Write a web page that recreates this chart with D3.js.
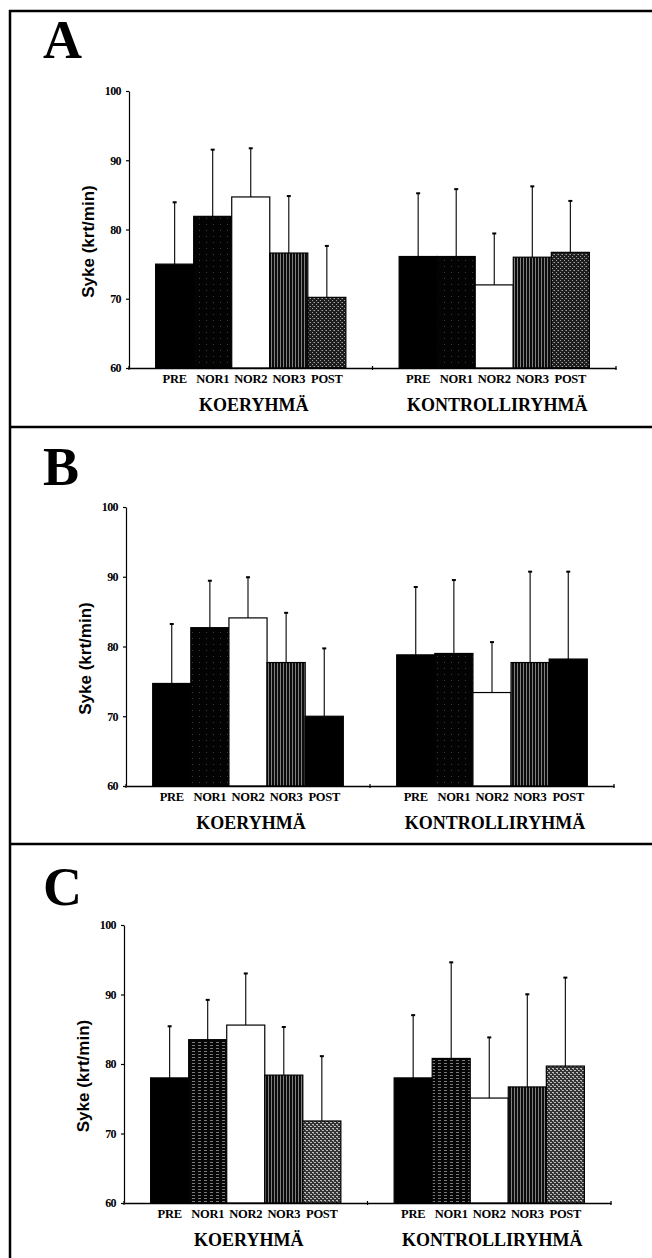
<!DOCTYPE html>
<html>
<head>
<meta charset="utf-8">
<script src="https://cdn.jsdelivr.net/npm/d3@7"></script>
<style>
  html, body { margin: 0; padding: 0; background: #fff; }
  svg { display: block; }
</style>
</head>
<body>
<script>
// Heart rate (Syke, beats/min) by measurement phase, experimental vs control group
const categories = ["PRE", "NOR1", "NOR2", "NOR3", "POST"];
const groups = ["KOERYHMÄ", "KONTROLLIRYHMÄ"];
const yTicks = [60, 70, 80, 90, 100];
const yTitle = "Syke (krt/min)";

// Panel A
const meanA_koe = [75.0, 81.9, 84.7, 76.6, 70.2];
const sdA_koe = [9.0, 9.7, 7.1, 8.3, 7.5];
const meanA_kontrolli = [76.1, 76.1, 72.0, 76.0, 76.7];
const sdA_kontrolli = [9.2, 9.8, 7.5, 10.3, 7.5];

// Panel B
const meanB_koe = [74.7, 82.7, 84.1, 77.7, 70.0];
const sdB_koe = [8.6, 6.8, 5.9, 7.2, 9.8];
const meanB_kontrolli = [78.8, 79.0, 73.4, 77.7, 78.2];
const sdB_kontrolli = [9.8, 10.6, 7.3, 13.1, 12.6];

// Panel C
const meanC_koe = [78.0, 83.5, 85.6, 78.4, 71.8];
const sdC_koe = [7.5, 5.8, 7.5, 7.0, 9.4];
const meanC_kontrolli = [78.0, 80.8, 75.1, 76.7, 79.7];
const sdC_kontrolli = [9.1, 13.9, 8.8, 13.4, 12.8];

// Layout of the three stacked panels
const panels = [
  { letter: "A", top: 11,  y100: 91,  y60: 368,  left: 129, right: 616, letterY: 58,
    fills: ["solid", "speck", "white", "vstripe", "halftone"],
    series: [[meanA_koe, sdA_koe], [meanA_kontrolli, sdA_kontrolli]] },
  { letter: "B", top: 427, y100: 507, y60: 786,  left: 126, right: 614, letterY: 485,
    fills: ["solid", "speck", "white", "vstripe", "solid"],
    series: [[meanB_koe, sdB_koe], [meanB_kontrolli, sdB_kontrolli]] },
  { letter: "C", top: 844, y100: 925, y60: 1203, left: 124, right: 611, letterY: 905,
    fills: ["solid", "hstripe", "white", "vstripe", "halftoneLight"],
    series: [[meanC_koe, sdC_koe], [meanC_kontrolli, sdC_kontrolli]] }
];

const W = 652, H = 1258;
const serif = "'Liberation Serif', 'Times New Roman', serif";
const sans = "'Liberation Sans', Arial, sans-serif";

const svg = d3.select("body").append("svg").attr("width", W).attr("height", H);
svg.append("rect").attr("width", W).attr("height", H).attr("fill", "#fff");

// Fill textures for the bars
const defs = svg.append("defs");
function pattern(id, w, h, bg, marks) {
  const p = defs.append("pattern").attr("id", id).attr("patternUnits", "userSpaceOnUse")
    .attr("width", w).attr("height", h);
  p.append("rect").attr("width", w).attr("height", h).attr("fill", bg);
  marks.forEach(m => p.append("rect").attr("x", m[0]).attr("y", m[1])
    .attr("width", m[2]).attr("height", m[3]).attr("fill", m[4]));
}
pattern("speck", 7, 6, "#030303", [[3, 2, 1, 1, "#3c3c3c"]]);
pattern("vstripe", 3, 2, "#0c0c0c", [[1, 0, 1, 2, "#808080"]]);
pattern("hstripe", 6, 3, "#060606", [[0, 1, 3, 1, "#7a7a7a"]]);
pattern("halftone", 4, 4, "#1e1e1e", [[0, 0, 1, 1, "#a0a0a0"], [2, 2, 1, 1, "#a0a0a0"], [1, 2, 1, 1, "#606060"]]);
pattern("halftoneLight", 4, 4, "#333", [[0, 0, 2, 1, "#bdbdbd"], [2, 2, 2, 1, "#bdbdbd"], [1, 1, 1, 1, "#8a8a8a"]]);

function fillFor(key) {
  if (key === "solid") return "#000";
  if (key === "white") return "#fff";
  return `url(#${key})`;
}

// Frame lines
const frame = svg.append("g").attr("stroke", "#000").attr("stroke-width", 2.5).attr("fill", "none");
frame.append("line").attr("x1", 10).attr("x2", 10).attr("y1", 10).attr("y2", H);
panels.forEach(p => frame.append("line").attr("x1", 9).attr("x2", W).attr("y1", p.top).attr("y2", p.top));

panels.forEach(p => {
  const g = svg.append("g");

  const y = d3.scaleLinear().domain([60, 100]).range([p.y60, p.y100]);
  const xG = d3.scaleBand().domain(groups).range([p.left, p.right]);
  const xC = d3.scaleBand().domain(categories).range([0, xG.bandwidth()])
    .paddingInner(0).paddingOuter(0.7);

  // Panel letter
  g.append("text").attr("x", 43).attr("y", p.letterY)
    .attr("font-family", serif).attr("font-weight", "bold").attr("font-size", 54)
    .text(p.letter);

  // Bars
  groups.forEach((grp, gi) => {
    const [means, sds] = p.series[gi];
    const bars = g.append("g");
    bars.selectAll("rect").data(categories).join("rect")
      .attr("x", (c) => xG(grp) + xC(c))
      .attr("y", (c, i) => y(means[i]))
      .attr("width", xC.bandwidth())
      .attr("height", (c, i) => y(60) - y(means[i]))
      .attr("fill", (c, i) => fillFor(p.fills[i]))
      .attr("stroke", "#000").attr("stroke-width", 1.2);

    // Error bars (mean + SD)
    const err = g.append("g").attr("stroke", "#000");
    categories.forEach((c, i) => {
      const cx = xG(grp) + xC(c) + xC.bandwidth() / 2;
      err.append("line").attr("x1", cx).attr("x2", cx)
        .attr("y1", y(means[i])).attr("y2", y(means[i] + sds[i])).attr("stroke-width", 1.1);
      err.append("line").attr("x1", cx - 2).attr("x2", cx + 2)
        .attr("y1", y(means[i] + sds[i]) + 0.5).attr("y2", y(means[i] + sds[i]) + 0.5)
        .attr("stroke-width", 2);
    });

    // Category labels
    g.append("g").selectAll("text").data(categories).join("text")
      .attr("x", (c) => xG(grp) + xC(c) + xC.bandwidth() / 2)
      .attr("y", p.y60 + 15)
      .attr("text-anchor", "middle")
      .attr("font-family", serif).attr("font-weight", "bold").attr("font-size", 12.5)
      .attr("letter-spacing", -0.3)
      .text(c => c);

    // Group label
    g.append("text").attr("x", xG(grp) + xG.bandwidth() / 2 + 3).attr("y", p.y60 + 43)
      .attr("text-anchor", "middle")
      .attr("font-family", serif).attr("font-weight", "bold").attr("font-size", 18)
      .text(grp);
  });

  // Y axis
  const yAxis = g.append("g").attr("transform", `translate(${p.left},0)`)
    .call(d3.axisLeft(y).tickValues(yTicks).tickSizeInner(3).tickSizeOuter(0).tickPadding(5));
  yAxis.selectAll("path, line").attr("stroke", "#000").attr("stroke-width", 1.2);
  yAxis.selectAll("text").attr("font-family", serif).attr("font-weight", "bold")
    .attr("font-size", 12).attr("fill", "#000").attr("letter-spacing", -0.6);

  // X axis with ticks at the group boundaries
  const xAxis = g.append("g").attr("transform", `translate(0,${p.y60})`)
    .call(d3.axisBottom(xG).tickSize(0).tickFormat(""));
  xAxis.select(".domain").attr("stroke", "#000").attr("stroke-width", 1.4);
  const bounds = groups.map(d => xG(d)).concat([xG.range()[1]]);
  xAxis.selectAll("line.bound").data(bounds).join("line").attr("class", "bound")
    .attr("x1", d => d).attr("x2", d => d).attr("y1", -2).attr("y2", 2)
    .attr("stroke", "#000").attr("stroke-width", 1.2);

  // Y axis title
  const cy = (p.y60 + p.y100) / 2 + 12;
  g.append("text")
    .attr("transform", `translate(${p.left - 35},${cy}) rotate(-90)`)
    .attr("text-anchor", "middle")
    .attr("font-family", sans).attr("font-weight", "bold").attr("font-size", 17)
    .text(yTitle);
});
</script>
</body>
</html>
